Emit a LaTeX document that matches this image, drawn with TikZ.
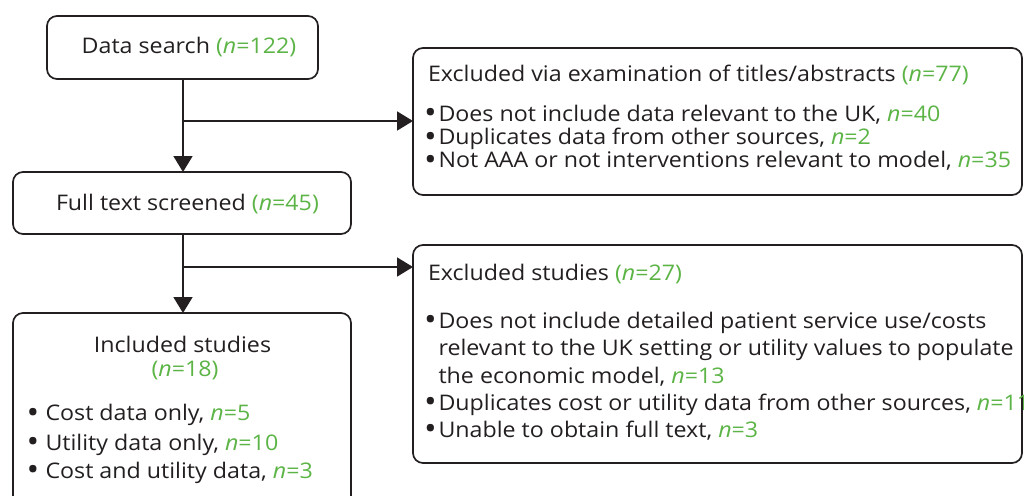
\documentclass[tikz,border=0pt]{standalone}
\usepackage{fontspec}
\setmainfont{Open Sans}[FakeStretch=1.08]
\usetikzlibrary{arrows.meta}
\definecolor{ink}{RGB}{35,31,32}
\definecolor{grn}{RGB}{92,180,70}
% green count, e.g. n=40, and the bracketed form (n=40)
\newcommand\cnt[1]{{\color{grn}\textit{n}=#1}}
\newcommand\pcnt[1]{{\color{grn}(\textit{n}=#1)}}
% enlarged bullet set in a box of given width
\newcommand\bul[1]{\makebox[#1][l]{\hspace{-2.5pt}\raisebox{-0.12em}{\scalebox{1.45}{\textbullet}}}}

\begin{document}
\begin{tikzpicture}[x=1pt,y=-1pt,
  box/.style={draw=ink, line width=1.7pt, rounded corners=10pt,
    anchor=north west, inner sep=0pt, outer sep=0pt},
  txt/.style={anchor=base west, inner sep=0pt, outer sep=0pt, text=ink,
    font=\fontsize{21.5}{26}\selectfont},
  flow/.style={draw=ink, line width=1.8pt, -{Triangle[width=19pt,length=16pt]}}]
\clip (0,0) rectangle (1024,495);

% boxes
\node[box, minimum width=271pt, minimum height=63pt]  (search)  at (47,16)  {};
\node[box, minimum width=338pt, minimum height=62pt]  (screen)  at (13,172) {};
\node[box, minimum width=338pt, minimum height=210pt] (incl)    at (13,313) {};
\node[box, minimum width=609pt, minimum height=147pt] (exclA)   at (413,48) {};
\node[box, minimum width=609pt, minimum height=218pt] (exclB)   at (413,245) {};

% box texts
\node[txt] (t-search) at (81.7,54) {Data search \pcnt{122}};
\node[txt] (t-screen) at (56,210)  {Full text screened \pcnt{45}};

\node[txt] (a0) at (428,81.7)    {Excluded via examination of titles/abstracts \pcnt{77}};
\node[txt] (a1) at (426.5,121.3) {\bul{12pt}Does not include data relevant to the UK, \cnt{40}};
\node[txt] (a2) at (426.5,144.5) {\bul{12pt}Duplicates data from other sources, \cnt{2}};
\node[txt] (a3) at (426.5,167.8) {\bul{12pt}Not AAA or not interventions relevant to model, \cnt{35}};

\node[txt] (b0) at (428,280)     {Excluded studies \pcnt{27}};
\node[txt] (b1) at (426.5,328.3) {\bul{12pt}Does not include detailed patient service use/costs};
\node[txt] (b2) at (438.5,355)   {relevant to the UK setting or utility values to populate};
\node[txt] (b3) at (438.5,383)   {the economic model, \cnt{13}};
\node[txt] (b4) at (426.5,410)   {\bul{12pt}Duplicates cost or utility data from other sources, \cnt{11}};
\node[txt] (b5) at (426.5,437)   {\bul{12pt}Unable to obtain full text, \cnt{3}};

\node[txt, anchor=base] (c0) at (182.5,352.7) {Included studies};
\node[txt, anchor=base] (c1) at (185,376.7)   {\pcnt{18}};
\node[txt] (c2) at (29,420.7) {\bul{16.5pt}Cost data only, \cnt{5}};
\node[txt] (c3) at (29,450)   {\bul{16.5pt}Utility data only, \cnt{10}};
\node[txt] (c4) at (29,478.3) {\bul{16.5pt}Cost and utility data, \cnt{3}};

% connectors
\coordinate (j1) at (183,121);
\coordinate (j2) at (183,267);
\draw[flow] (search.south -| j1) -- (screen.north -| j1);
\draw[flow] (j1) -- (j1 -| exclA.west);
\draw[flow] (screen.south -| j2) -- (incl.north -| j2);
\draw[flow] (j2) -- (j2 -| exclB.west);
\end{tikzpicture}
\end{document}
